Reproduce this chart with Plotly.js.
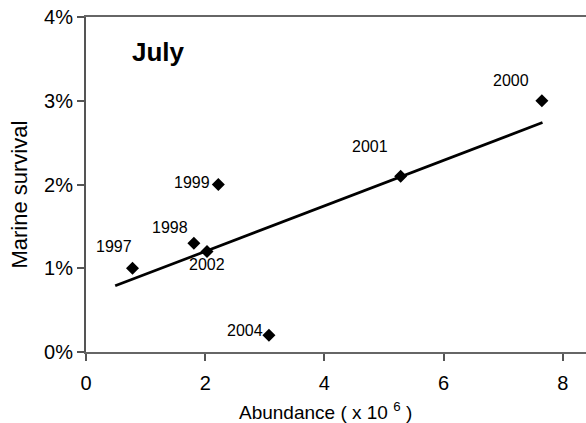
<!DOCTYPE html>
<html>
<head>
<meta charset="utf-8">
<script src="https://cdn.plot.ly/plotly-3.0.1.min.js"></script>
<style>
  html, body { margin: 0; padding: 0; background: #fff; }
  #chart { width: 586px; height: 423px; }
</style>
</head>
<body>
<div id="chart"></div>
<script>
// Brood years, abundance (millions) and marine survival (%)
const years = ['1997', '1998', '1999', '2000', '2001', '2002', '2004'];
const abundance = [0.78, 1.81, 2.22, 7.65, 5.28, 2.03, 3.07];
const survival = [1.0, 1.3, 2.0, 3.0, 2.1, 1.2, 0.2];

// Linear trend line end points
const trendX = [0.49, 7.66];
const trendY = [0.79, 2.74];

// Year label offsets (pixels, screen direction) relative to each point
const labelDx = [-18, -24, -26, -31, -31, 0, -24];
const labelDy = [-22, -16, -2, -20, -30, 13, -5];

const font = 'Arial, "Liberation Sans", sans-serif';

const annotations = years.map((yr, i) => ({
  x: abundance[i], y: survival[i], xref: 'x', yref: 'y',
  xanchor: 'center', yanchor: 'middle',
  text: yr, showarrow: false,
  xshift: labelDx[i], yshift: -labelDy[i],
  font: { family: font, size: 16, color: '#000' }
}));

// Panel title
annotations.push({
  xref: 'paper', yref: 'paper', x: 0.144, y: 0.895,
  xanchor: 'center', yanchor: 'middle',
  text: '<b>July</b>', showarrow: false,
  font: { family: font, size: 26, color: '#000' }
});

// Axis titles
annotations.push({
  xref: 'paper', yref: 'paper', x: 0.479, y: -0.176,
  xanchor: 'center', yanchor: 'middle',
  text: 'Abundance ( x 10 <sup>6</sup> )', showarrow: false,
  font: { family: font, size: 19, color: '#000' }
});
annotations.push({
  xref: 'paper', yref: 'paper', x: -0.132, y: 0.47,
  xanchor: 'center', yanchor: 'middle', textangle: -90,
  text: 'Marine survival', showarrow: false,
  font: { family: font, size: 22, color: '#000' }
});

const data = [
  {
    x: trendX, y: trendY, type: 'scatter', mode: 'lines',
    line: { color: '#000', width: 2.7 }, hoverinfo: 'skip'
  },
  {
    x: abundance, y: survival, type: 'scatter', mode: 'markers',
    marker: { symbol: 'diamond', size: 10, color: '#000' }
  }
];

const layout = {
  width: 586, height: 423,
  margin: { l: 86, r: 0, t: 17, b: 71 },
  paper_bgcolor: '#fff', plot_bgcolor: '#fff',
  showlegend: false,
  font: { family: font, color: '#000' },
  xaxis: {
    range: [0, 8.39], dtick: 2, tick0: 0,
    showgrid: false, zeroline: false,
    showline: true, linecolor: '#666', linewidth: 2, mirror: true,
    ticks: 'outside', ticklen: 7, tickcolor: '#555', tickwidth: 2,
    ticklabelstandoff: 5,
    tickfont: { family: font, size: 20 }
  },
  yaxis: {
    range: [0, 4], dtick: 1, ticksuffix: '%',
    showgrid: false, zeroline: false,
    showline: true, linecolor: '#555', linewidth: 2,
    ticks: 'outside', ticklen: 7, tickcolor: '#555', tickwidth: 2,
    tickfont: { family: font, size: 20 }
  },
  annotations: annotations
};

Plotly.newPlot('chart', data, layout, { displayModeBar: false, staticPlot: true });
</script>
</body>
</html>
